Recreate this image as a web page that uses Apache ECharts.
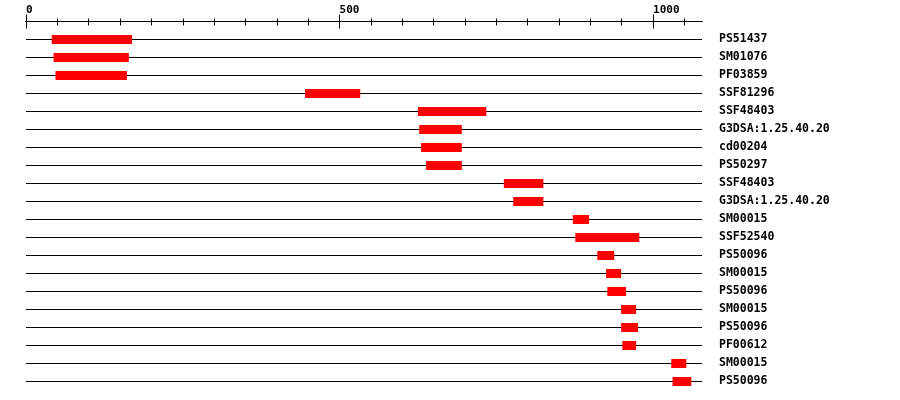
<!DOCTYPE html>
<html>
<head>
<meta charset="utf-8">
<script src="https://cdn.jsdelivr.net/npm/echarts@6/dist/echarts.min.js"></script>
<style>
  html, body { margin: 0; padding: 0; background: #fff; }
  #chart { width: 900px; height: 400px; }
</style>
</head>
<body>
<div id="chart"></div>
<script>
// dominios, uno por fila (de arriba a abajo)
const dominios = [
  'PS51437', 'SM01076', 'PF03859', 'SSF81296', 'SSF48403',
  'G3DSA:1.25.40.20', 'cd00204', 'PS50297', 'SSF48403', 'G3DSA:1.25.40.20',
  'SM00015', 'SSF52540', 'PS50096', 'SM00015', 'PS50096',
  'SM00015', 'PS50096', 'PF00612', 'SM00015', 'PS50096'
];
const inicios = [41, 44, 47, 445, 625, 627, 630, 638, 762, 777, 872, 876, 911, 925, 927, 949, 949, 951, 1029, 1031];
const fines = [169, 164, 161, 533, 734, 695, 695, 695, 825, 825, 898, 978, 938, 949, 957, 973, 976, 973, 1053, 1061];

const largoSecuencia = 1078;
const ticksMayores = [0, 500, 1000];
const ticksMenores = [50, 100, 150, 200, 250, 300, 350, 400, 450, 550, 600, 650, 700, 750, 800, 850, 900, 950, 1050];

const fuente = 'DejaVu Sans Mono';
const marco = { left: 26, right: 198, top: 39.5, bottom: 18.5 };

// eje superior: cada marca se arma con dos ejes (afuera y adentro) en grids iguales
function ejeX(indice, valores, largo, adentro, conEtiquetas) {
  return {
    type: 'value',
    gridIndex: indice,
    position: 'top',
    offset: 18,
    min: 0,
    max: largoSecuencia,
    axisLine: { show: true, onZero: false, lineStyle: { color: '#000', width: 1 } },
    axisTick: { show: true, inside: adentro, length: largo, customValues: valores, lineStyle: { color: '#000', width: 1 } },
    axisLabel: {
      show: conEtiquetas,
      customValues: valores,
      formatter: v => String(v),
      align: 'left',
      margin: 6,
      color: '#000',
      fontFamily: fuente,
      fontWeight: 'bold',
      fontSize: 11
    },
    splitLine: { show: false }
  };
}

function ejeOculto(indice) {
  return { type: 'value', gridIndex: indice, show: false };
}

const chart = echarts.init(document.getElementById('chart'));

chart.setOption({
  animation: false,
  backgroundColor: '#fff',
  grid: [marco, marco, marco, marco],
  xAxis: [
    ejeX(0, ticksMayores, 7, false, true),
    ejeX(1, ticksMayores, 7, true, false),
    ejeX(2, ticksMenores, 3, false, false),
    ejeX(3, ticksMenores, 4, true, false)
  ],
  yAxis: [{
    type: 'category',
    gridIndex: 0,
    data: dominios,
    inverse: true,
    position: 'right',
    boundaryGap: false,
    axisLine: { show: false },
    axisTick: { show: false },
    axisLabel: {
      margin: 17,
      align: 'left',
      color: '#000',
      fontFamily: fuente,
      fontWeight: 'bold',
      fontSize: 11.5
    },
    splitLine: { show: true, lineStyle: { color: '#000', width: 1 } }
  }, ejeOculto(1), ejeOculto(2), ejeOculto(3)],
  series: [{
    type: 'custom',
    xAxisIndex: 0,
    yAxisIndex: 0,
    data: dominios.map((d, i) => [inicios[i], fines[i], i]),
    renderItem: function (params, api) {
      const a = api.coord([api.value(0), api.value(2)]);
      const b = api.coord([api.value(1), api.value(2)]);
      const alto = 9;
      return {
        type: 'rect',
        shape: { x: a[0], y: a[1] - alto / 2, width: b[0] - a[0], height: alto },
        style: { fill: '#ff0000' }
      };
    }
  }]
});
</script>
</body>
</html>
